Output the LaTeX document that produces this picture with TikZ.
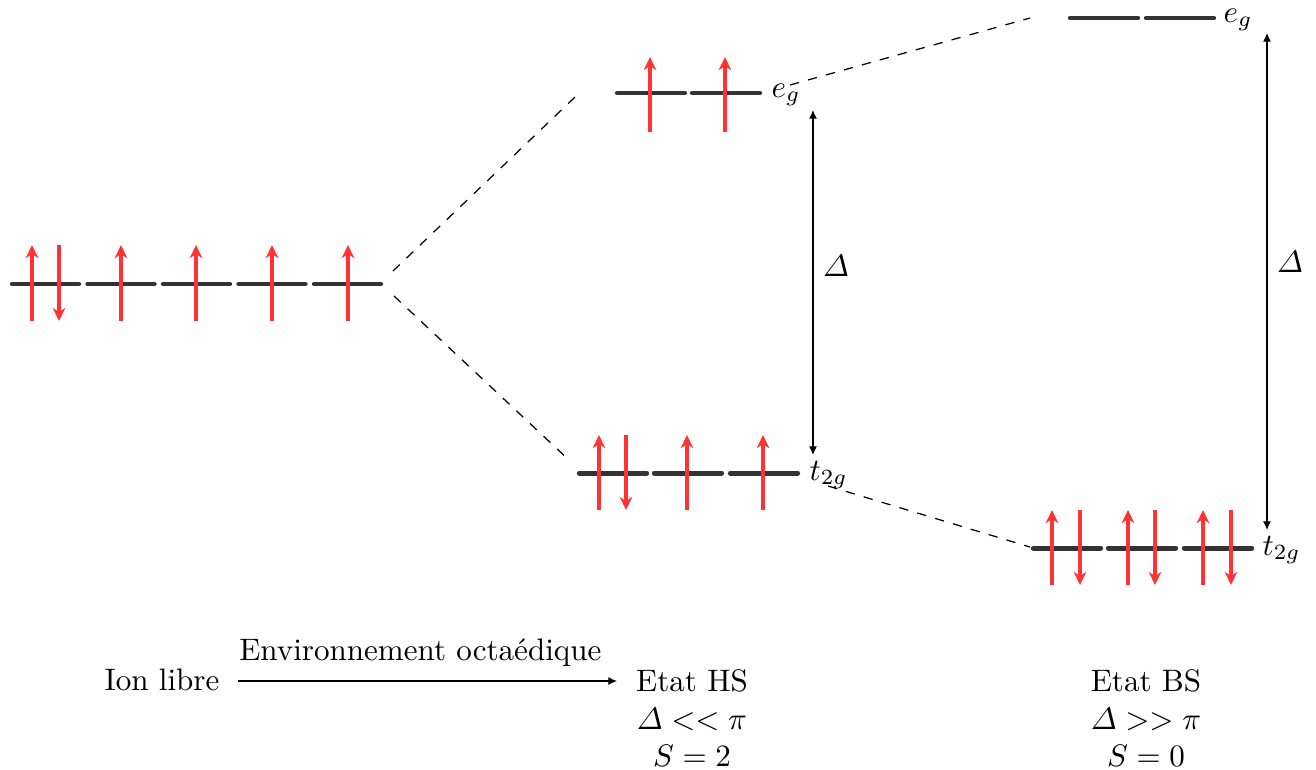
\documentclass[tikz,border=0pt]{standalone}
\usepackage{amsmath}
\usetikzlibrary{arrows.meta}
\begin{document}
\begin{tikzpicture}[x=0.3219pt,y=-0.3219pt,
  level/.style={draw=black!80,line width=1.6pt,line cap=round},
  spin/.style={draw=red!80,line width=1pt,-{Stealth[length=4.2pt,width=4pt,inset=1.3pt]}},
  link/.style={dashed,line width=0.4pt},
  gap/.style={{Latex[length=2.8pt,width=2.6pt]}-{Latex[length=2.8pt,width=2.6pt]},line width=0.4pt},
  lbl/.style={anchor=base west,inner sep=0pt},
  txt/.style={align=center,anchor=north}]
\useasboundingbox (0,0) rectangle (1316,769);
% free ion
\foreach \x in {10,85.5,161,236.5,312} \draw[level] (\x+2.3,284) -- (\x+68.7,284);
\foreach \x in {32,121,196,272,348} \draw[spin] (\x,321) -- (\x,245);
\draw[spin] (59,245) -- (59,321);
% HS eg
\foreach \x in {615,690} \draw[level] (\x+2.3,93) -- (\x+69.7,93);
\foreach \x in {650,725} \draw[spin] (\x,132) -- (\x,57);
\node[lbl] (eghs) at (771,97) {$e_g$};
% HS t2g
\foreach \x in {577,652,728} \draw[level] (\x+2.3,473) -- (\x+69.7,473);
\foreach \x in {599,687,763} \draw[spin] (\x,510) -- (\x,435);
\draw[spin] (626,435) -- (626,510);
\node[lbl] (ths) at (809,480) {$t_{2g}$};
% BS eg
\foreach \x in {1068,1144} \draw[level] (\x+2.3,18) -- (\x+69.7,18);
\node[lbl] (egbs) at (1223,22) {$e_g$};
% BS t2g
\foreach \x in {1031,1106,1182} \draw[level] (\x+2.3,548) -- (\x+69.7,548);
\foreach \x in {1052,1128,1203} \draw[spin] (\x,585) -- (\x,510);
\foreach \x in {1080,1155,1231} \draw[spin] (\x,510) -- (\x,585);
\node[lbl] (tbs) at (1262,555) {$t_{2g}$};
% Delta gaps
\coordinate (g1a) at (813,110); \coordinate (g1b) at (813,455);
\coordinate (g2a) at (1267,33); \coordinate (g2b) at (1267,530);
\draw[gap] (g1a) -- (g1b);
\draw[gap] (g2a) -- (g2b);
\node (d1) at (836,266) {$\varDelta$};
\node (d2) at (1290,262) {$\varDelta$};
% dashed correlation lines
\coordinate (f1) at (393,271); \coordinate (h1) at (575,97);
\coordinate (f2) at (394,296); \coordinate (h2) at (570,461);
\coordinate (h3) at (790,85); \coordinate (b3) at (1030,18);
\coordinate (h4) at (828,486); \coordinate (b4) at (1030,547);
\draw[link] (f1) -- (h1);
\draw[link] (f2) -- (h2);
\draw[link] (h3) -- (b3);
\draw[link] (h4) -- (b4);
% bottom text
\node[anchor=base] (ion) at (162,690) {Ion libre};
\node[txt] (hs) at (692,659) {Etat HS\\$\varDelta << \pi$\\$S=2$};
\node[txt] (bs) at (1146,659) {Etat BS\\$\varDelta >> \pi$\\$S=0$};
\coordinate (a1) at (238,681); \coordinate (a2) at (617,681);
\draw[-{Latex[length=2.8pt,width=2.6pt]},line width=0.4pt] (a1) -- node[above,xshift=-2.3pt,yshift=1.2pt] (env) {Environnement octaédique} (a2);
\end{tikzpicture}
\end{document}
